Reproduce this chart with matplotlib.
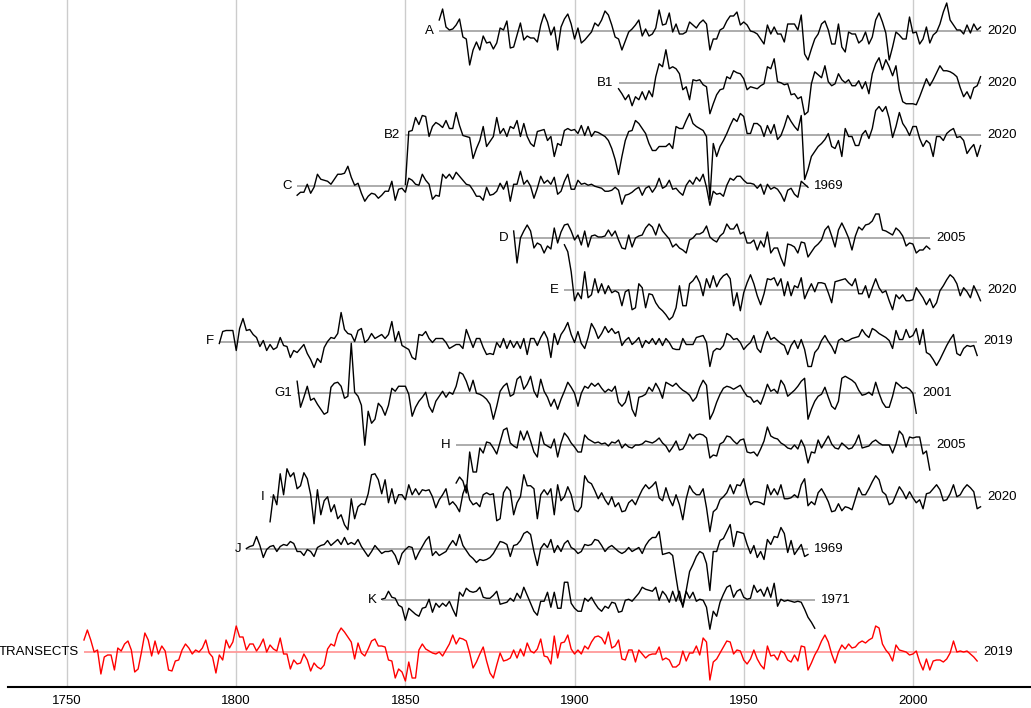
import matplotlib
matplotlib.use("Agg")
import matplotlib.pyplot as plt
import numpy as np

plt.rcParams['font.family'] = ['Liberation Sans', 'DejaVu Sans']

# Ring-width index anomalies (hundredths of index units, ~px scale)
names = ["A", "B1", "B2", "C", "D", "E", "F", "G1", "H", "I", "J", "K", "TRANSECTS"]
start_years = [1860, 1913, 1850, 1818, 1882, 1897, 1795, 1818, 1865, 1810, 1803, 1843, 1755]
end_labels = ["2020", "2020", "2020", "1969", "2005", "2020", "2019", "2001", "2005", "2020", "1969", "1971", "2019"]

A = [11,22,4,1,2,6,12,-6,-8,-34, -19,-11,-19,-5,-12,-11,-18,-12,3,1,
     10,-17,-16,-4,8,-9,-5,-7,-7,-11, 6,17,9,-4,4,-19,4,12,17,7,
     -8,3,-12,-9,-5,-1,8,5,11,20, 16,6,-6,-8,-19,-10,-1,2,6,11,
     -5,2,-5,-3,3,21,6,7,18,-1, 7,-3,-3,-1,9,6,3,
     8,11,7,-19,-8,-8,1,3,10,15, 15,19,6,9,6,0,-1,-3,-8,-13,
     6,-3,4,-3,-3,-11,7,7,7,1, 16,-23,-29,-18,-8,-3,7,10,1,-13,
     -13,7,-16,-21,-1,-3,-3,-12,-9,-1, -13,-6,11,18,9,-2,-29,-16,-1,-4,
     -8,-8,14,-2,-1,-13,-8,4,-12,-4, -1,7,19,28,11,6,1,1,-3,6, -2,7,1,4]

B1 = [-6,-11,-17,-12,-23,-14,-17,-9,-17,-8, -14,6,19,16,33,14,16,14,9,-7, -4,-17,3,2,
      3,-2,-4,-31,-21,-12,-7,-6,6,4, 12,10,9,4,-7,-4,-5,-6,-3,-1,
      16,14,24,1,0,-2,-1,-12,-11,-16, -14,-32,-29,-1,11,8,5,17,1,-3,
      -1,9,3,0,3,-3,-3,2,-6,1, -11,9,19,25,13,23,16,7,17,-7,
      -19,-21,-21,-21,-22,-14,-5,4,-3,3, 10,17,12,12,11,9,6,-5,-14,-9, -16,-5,-3,6]

B2 = [-50,3,4,17,10,19,18,-2,8,12, 10,7,14,6,6,22,9,-1,-2,-3,
      -24,-14,-6,8,-12,-7,-2,17,1,6, -2,8,6,14,-2,11,-2,-9,-12,3,
      4,5,-6,-2,-22,-9,-11,4,6,4, 5,1,9,-1,8,-2,3,2,0,-2, -6,-14,-25,
      -40,-22,-6,3,4,14,11,6,1,-9, -16,-16,-12,-12,-12,-9,-14,8,6,6, 14,21,11,8,
      6,4,-2,-65,-9,-22,-12,-6,1,9, 16,13,21,18,1,1,11,11,8,-2,
      9,1,10,-5,-1,8,19,13,8,4, 19,-45,-35,-22,-17,-12,-9,-5,1,-12,
      -14,-6,-22,6,-2,-2,-11,-11,0,4, -4,6,24,28,23,28,16,-3,8,22,
      11,6,-1,8,8,-4,-12,-6,-9,-22, -2,-2,-6,1,4,6,-3,-2,-6,-19, -14,-10,-22,-11]

C = [-9,-6,-6,2,-7,-1,12,7,6,5, 2,7,12,12,13,20,9,1,3,-7,
     -15,-10,-7,-8,-12,-9,-5,-5,5,-14, -3,-2,-6,8,6,2,1,12,6,2,
     -13,-9,-10,12,8,12,7,14,10,6, 2,1,-4,-10,-10,-14,-1,-9,-8,-5,
     3,-3,5,-15,2,2,15,2,6,0, -12,-2,10,3,6,2,9,-8,-5,5,
     12,-3,-3,6,2,3,1,2,0,-1, -2,-5,-5,-4,-1,-4,-18,-9,-8,-6,
     -3,-1,-9,-2,0,-6,-1,8,-2,0, 6,-3,-2,-6,-9,1,6,2,9,5,
     12,-1,-19,-5,-8,-7,-10,1,8,6, 10,10,6,3,3,2,-2,2,-8,2,
     -3,-1,-3,-8,-15,-4,-2,-8,-11,5, 2,-1]

D = [7,-25,0,7,13,7,-10,-5,-7,-15, -8,-11,10,-5,6,13,14,7,-2,3,
     -7,7,-9,2,3,1,1,2,8,2, 7,-2,-10,-11,3,-9,0,2,3,10,
     14,11,3,14,7,3,-1,-9,-6,-10, -12,-15,-2,0,4,4,6,12,1,-2,
     -4,2,5,14,9,9,14,4,6,-5, -5,-2,-12,-3,-9,6,-15,-10,-10,-20,
     -28,-6,-7,-9,-15,-4,-5,-19,-14,-9, -6,-2,8,12,2,-9,8,15,8,0,
     -12,2,11,8,13,14,17,24,24,8, 7,5,3,10,7,2,-8,-5,-6,-15, -12,-12,-8,-11]

E = [45,38,18,-11,-3,-9,18,-8,-5,11, -3,6,-4,4,-3,-1,-3,-16,-2,0,
     -20,-18,6,2,-18,-4,-5,-13,-18,-21, -25,-30,-27,-18,4,-16,-16,6,9,14,
     7,-6,11,2,14,3,10,14,16,11, -16,-3,-21,-3,7,15,6,-6,-15,-4,
     11,10,12,4,11,-6,8,-6,4,2, 12,-9,-1,6,-2,7,7,6,-3,-13,
     8,9,10,11,7,4,11,-4,-4,4, -8,2,11,2,-3,-1,-11,-20,-5,-9,
     -5,-11,-11,-10,2,-3,-8,-15,-9,-18, -13,-1,4,10,15,12,6,-6,2,-2, -8,4,-3,-11]

F = [-2,10,11,11,11,
     -9,13,23,11,12,7,4,-5,1,-9, -3,-8,-6,4,-4,-5,-16,-9,-11,-7,
     -3,-12,-18,-26,-17,-21,-6,0,4,3, 8,29,12,8,7,0,11,13,-1,2,
     8,3,5,7,3,7,20,0,10,-4, -6,-8,-16,-18,7,6,10,3,-1,3,
     3,3,-1,-7,-5,-3,-3,-7,12,3, -6,3,3,-6,-13,-12,-13,-1,-6,3,
     -7,1,-6,0,-7,3,-13,3,3,-4, 4,10,3,-16,8,-3,7,12,19,7,
     -1,10,-2,-7,4,18,12,3,8,15, 9,
     13,8,10,-4,1,4,-3,0,4,
     -6,1,-2,3,-3,3,-4,3,-1,-7, -8,-8,3,-3,-3,-3,4,5,6,-1,
     -25,-10,-7,-8,-4,8,6,2,3,-1, -8,-4,-1,6,-7,-11,1,10,2,4,
     1,-2,-4,-13,-4,1,-7,2,-8,-25, -25,-11,-7,1,6,0,-5,-12,1,3,
     0,1,3,4,5,12,7,4,13,11, 8,6,4,1,-7,11,2,2,12,4,
     6,13,-3,12,-11,-13,-18,-24,-18,-11, -4,2,7,-12,-14,-7,-4,-5,-4,-14]

G1 = [12,-14,-4,7,-7,-5,-11,-16,-21,-19, 6,10,11,7,-5,-3,50,1,-3,-12,
      -52,-18,-30,-26,-10,-14,-22,-12,5,2, 7,7,7,-1,-23,-14,-8,-4,1,-13,
      -19,-8,-3,2,-4,1,-1,7,21,19, 12,2,13,0,-1,-3,-6,-11,-26,-13,
      2,7,10,-3,-1,14,17,4,9,17, 2,-4,14,2,-4,-13,-6,-16,-6,2,
      11,6,0,-13,0,7,5,10,7,10, 5,1,4,
      2,7,-9,-13,-9,2,-16,-23,-4,
      -3,-1,6,2,10,4,-5,11,9,7, 10,6,3,1,-2,-8,-4,6,13,8,
      -26,-19,-9,-1,5,7,6,4,6,8, 2,-3,-4,-9,-7,-11,-2,9,2,4,
      0,13,8,-3,0,3,7,12,15,-26, -16,-8,-3,-1,6,-4,-13,-16,-8,15,
      17,15,13,10,3,-2,-1,1,-2,11, 0,-9,-14,-14,-3,11,8,5,6,4, 0,-20]

H = [-38,-32,-36,-48,-7,
     -27,-27,-3,-8,3,2,-3,-9,3,15, 17,2,-1,-3,14,5,14,4,-7,-12,
     13,1,-1,-3,6,-12,2,12,8,2, -2,-7,-7,10,6,4,2,3,1,2, -1,3,2,5,-3,1,
     -2,-3,0,0,1,4,3,2,4,7, 2,-1,-7,-2,4,-5,-4,2,11,6,
     10,11,10,7,-13,-10,-11,1,3,9, 8,4,1,5,6,-7,-8,-7,-11,-4,
     4,18,9,7,6,2,0,-3,-4,0, -4,5,-2,-18,-7,-8,5,-3,3,9,
     1,-3,-4,2,-1,-4,-3,2,10,-3, -2,-1,3,5,2,0,0,0,-8,1,
     14,10,-2,8,7,8,8,-9,-6,-25]

I = [-25,2,-8,23,2,28,20,24,8,11, 24,18,2,-27,7,-18,-4,0,-15,-8,
     -22,-18,-28,-33,-2,-22,-10,-7,-8,3, 22,23,17,3,17,-6,8,-7,2,2,
     -3,12,2,8,2,7,6,7,0,-11, -3,2,8,-8,-5,-9,-15,3,12,-3,
     -8,-6,-10,2,4,2,3,-24,-22,4, 10,6,-18,-6,0,22,11,11,8,-22,
     2,7,2,8,-18,12,-4,0,10,2, -13,-15,-10,21,15,13,
     6,-2,4,-3,-8,0,-10,-6,-15,-14,
     -6,-3,-8,0,7,12,8,11,15,-1, -4,9,-2,-9,2,-8,-23,-2,11,5,
     2,2,8,-11,-35,-15,-12,-3,0,4, 12,3,12,11,18,2,-8,-5,-5,-6,
     -8,12,2,8,2,12,-2,-2,-1,2, -1,12,18,-9,-5,-8,4,8,2,-5,
     -15,-14,-7,-14,-10,-11,-13,-2,9,2, 2,8,15,21,17,5,2,-8,-6,2,
     10,5,-2,5,-1,-6,-3,-12,3,4, 8,12,7,-4,-3,3,12,0,2,8, 12,9,5,-12,-10]

J = [0,2,3,12,3,-9,-1,2,3,-3, 2,4,3,7,5,-3,-3,-7,-1,-3,
     -8,1,3,4,8,3,6,9,4,11, 4,6,4,9,2,-3,-8,-3,3,-1,
     -5,-3,-3,-2,-7,-16,-5,-1,2,1, -11,-4,2,8,12,-7,-3,-7,-5,-3,
     3,8,3,14,3,-2,-7,-10,-14,-11, -12,-11,-9,-5,1,7,6,4,-8,3,
     4,8,15,17,14,-3,-17,0,5,1, 9,-4,3,-3,5,8,1,-1,-5,-3,
     4,3,4,9,8,3,-3,1,3,0, -3,-5,-3,1,-3,-1,1,-5,3,8,
     11,11,17,-6,-5,-4,-7,-29,-50,-57, -42,-23,-16,-8,-3,-5,-15,-42,-3,-3,
     8,10,17,24,2,17,16,15,4,-5, 3,-9,-3,-11,9,4,12,11,21,15, -4,8,-6,-1,4,-8,-6]

K = [1,2,9,3,2,-5,-7,
     -20,-8,-11,-14,-16,-8,-7,1,-12,-3, -7,-3,-6,-1,-9,-16,8,4,12,9,
     8,9,13,3,2,2,5,9,-4,-3, -2,2,-1,7,2,13,5,-3,-11,-15,
     -1,-1,8,-7,8,-8,-8,18,18,-3, -8,-11,-11,2,-1,3,-3,-8,-11,-6,
     -8,-2,-3,-12,-11,0,1,-1,3,7, 13,11,10,9,13,0,9,5,-2,9,
     -1,9,-7,9,2,8,-1,1,0,-7, -29,-11,-16,-2,6,13,15,3,9,11,
     3,1,2,15,8,11,4,13,3,17, -6,1,-1,0,-1,-2,-1,-2,-9,-17, -22,-28]

TRANSECTS = [12,22,12,0,2,
     -22,-5,-3,-3,-18,4,1,8,11,2, -20,-17,0,19,12,-4,11,-2,6,1,
     -18,-19,-9,-8,2,8,4,-2,2,0, 4,12,-1,-5,-21,-3,-8,12,4,10,
     26,15,15,2,8,8,1,6,13,0, 7,3,1,14,-2,-2,-17,-8,-12,-11,
     -2,-8,-19,-11,-15,-17,-13,3,8,6, 18,24,20,15,10,-7,9,-1,-4,3,
     11,13,6,6,5,-8,-9,-26,-17,-20, -29,-10,-26,-26,2,8,3,1,-1,-2,
     0,-4,2,8,17,8,14,13,11,-1, -16,-10,-2,5,-9,-21,-26,-13,-1,-9,
     -8,-6,2,-6,3,-4,9,
     1,-1,3,
     13,-4,-5,-12,16,-6,9,10,17,3, -2,2,-2,6,3,10,15,16,14,8,
     20,4,6,12,-7,-8,2,2,-10,2, -2,-6,-3,-2,-2,5,-8,-6,-8,-15,
     -15,-12,1,-9,-1,-1,6,-3,14,10, -28,-10,-7,-1,5,11,10,-2,2,1,
     -8,-12,-7,2,-7,-13,-17,6,-4,-3, -8,1,-1,-8,-10,-3,-9,6,5,-18,
     -11,-3,3,11,17,10,-2,-11,0,7, 3,8,4,5,9,11,9,12,14,26,
     24,8,2,-2,-9,7,2,1,0,-3, -2,1,-10,-18,-7,-18,-9,-8,-8,-10,
     -7,-1,11,0,1,0,1,-2,-5,-9]

series = [A, B1, B2, C, D, E, F, G1, H, I, J, K, TRANSECTS]
xticks = [1750, 1800, 1850, 1900, 1950, 2000]

# sanity check of lengths
bad = []
for n, s, st, el in zip(names, series, start_years, end_labels):
    if st + len(s) - 1 != int(el):
        bad.append(f"{n}: ends {st + len(s) - 1}, expected {el} (len {len(s)})")
if bad:
    raise SystemExit("\n".join(bad))

W, Hh = 1031, 708
fig = plt.figure(figsize=(W / 100, Hh / 100), dpi=100)
ax = fig.add_axes([8 / W, 21 / Hh, (W - 8) / W, (Hh - 21) / Hh])

ROW = 51.75          # vertical spacing between series (anomaly units)
px_year = 3.38
x0 = 1750 - (67 - 8) / px_year
x1 = 2000 + (W - 913) / px_year
ax.set_xlim(x0, x1)
ax.set_ylim(-(687 - 31), 31)

for k, (n, s, st, el) in enumerate(zip(names, series, start_years, end_labels)):
    base = -k * ROW
    yrs = np.arange(st, st + len(s))
    vals = base + np.array(s, dtype=float)
    red = (n == "TRANSECTS")
    ax.plot([yrs[0], yrs[-1]], [base, base], color="#ff9a9a" if red else "#a6a6a6",
            lw=1.3, zorder=2, solid_capstyle="butt")
    ax.plot(yrs, vals, color="#ff0000" if red else "#000000", lw=1.0, zorder=3)
    ax.text(yrs[0] - 1.6, base, n, ha="right", va="center", fontsize=9.5, color="#000000")
    ax.text(yrs[-1] + 1.9, base, el, ha="left", va="center", fontsize=9.5, color="#000000")

for xt in xticks:
    ax.axvline(xt, color="#cccccc", lw=1.0, zorder=1)

for sp in ["left", "right", "top"]:
    ax.spines[sp].set_visible(False)
ax.spines["bottom"].set_color("#000000")
ax.spines["bottom"].set_linewidth(1.5)
ax.set_yticks([])
ax.set_xticks(xticks)
ax.set_xticklabels([str(t) for t in xticks], fontsize=9.5, color="#000000")
ax.tick_params(axis="x", length=0, pad=6)

fig.savefig("out.png", dpi=100)
